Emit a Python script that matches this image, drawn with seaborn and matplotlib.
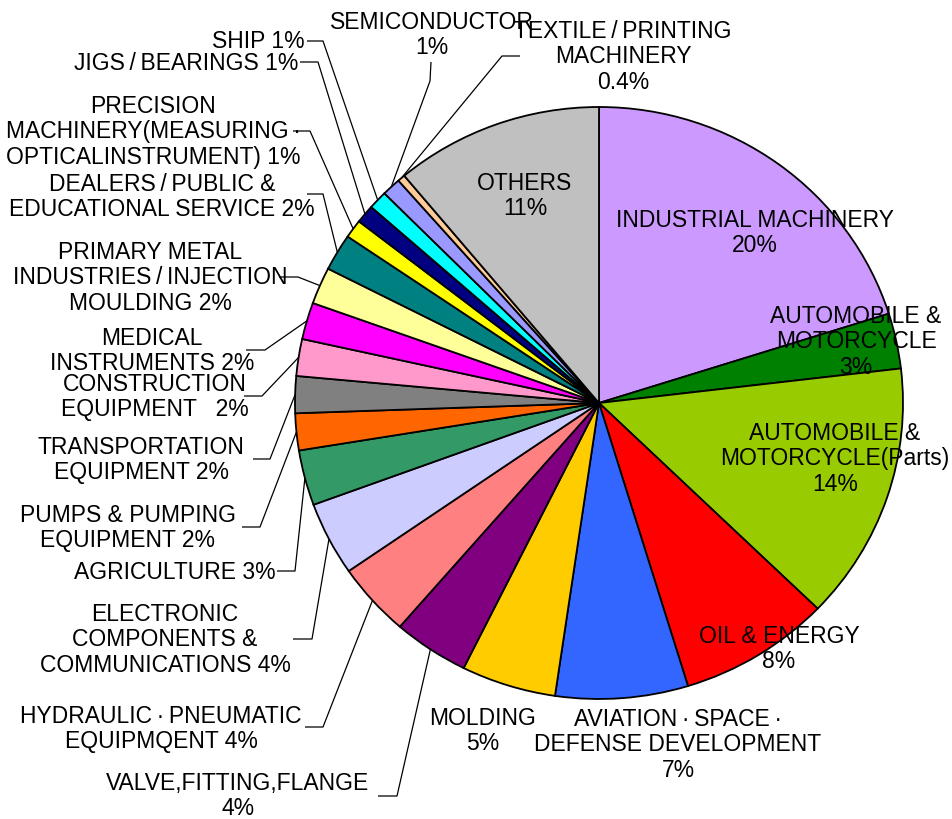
import matplotlib
matplotlib.use("Agg")
import matplotlib.pyplot as plt
import seaborn as sns
import numpy as np

sns.set_theme(style="white")
plt.rcParams["font.family"] = ["Liberation Sans", "DejaVu Sans"]

# Share of machine-tool demand by user industry (%), clockwise from 12 o'clock
categories = [
    "INDUSTRIAL MACHINERY", "AUTOMOBILE & MOTORCYCLE",
    "AUTOMOBILE & MOTORCYCLE(Parts)", "OIL & ENERGY",
    "AVIATION·SPACE·DEFENSE DEVELOPMENT", "MOLDING",
    "VALVE,FITTING,FLANGE", "HYDRAULIC·PNEUMATIC EQUIPMQENT",
    "ELECTRONIC COMPONENTS & COMMUNICATIONS", "AGRICULTURE",
    "PUMPS & PUMPING EQUIPMENT", "TRANSPORTATION EQUIPMENT",
    "CONSTRUCTION EQUIPMENT", "MEDICAL INSTRUMENTS",
    "PRIMARY METAL INDUSTRIES/INJECTION MOULDING",
    "DEALERS/PUBLIC & EDUCATIONAL SERVICE",
    "PRECISION MACHINERY(MEASURING·OPTICALINSTRUMENT)",
    "JIGS/BEARINGS", "SHIP", "SEMICONDUCTOR",
    "TEXTILE/PRINTING MACHINERY", "OTHERS",
]
shares = [20, 3, 14, 8, 7, 5, 4, 4, 4, 3, 2, 2, 2, 2, 2, 2, 1, 1, 1, 1, 0.4, 11]
colors = [
    "#CC99FF", "#008000", "#99CC00", "#FF0000", "#3366FF", "#FFCC00",
    "#800080", "#FF8080", "#CCCCFF", "#339966", "#FF6600", "#808080",
    "#FF99CC", "#FF00FF", "#FFFF99", "#008080", "#FFFF00", "#000080",
    "#00FFFF", "#9999FF", "#FFCC99", "#C0C0C0",
]
T = "\u2009"  # thin space around slashes and middle dots
# label text as printed on the chart ({} is replaced by the share)
label_fmt = [
    "INDUSTRIAL MACHINERY\n{}%", "AUTOMOBILE &\nMOTORCYCLE\n{}%",
    "AUTOMOBILE &\nMOTORCYCLE(Parts)\n{}%", "OIL & ENERGY\n{}%",
    f"AVIATION{T}·{T}SPACE{T}·\nDEFENSE DEVELOPMENT\n{{}}%", "MOLDING\n{}%",
    "VALVE,FITTING,FLANGE\n{}%", f"HYDRAULIC{T}·{T}PNEUMATIC\nEQUIPMQENT {{}}%",
    "ELECTRONIC\nCOMPONENTS &\nCOMMUNICATIONS {}%", "AGRICULTURE {}%",
    "PUMPS & PUMPING\nEQUIPMENT {}%", "TRANSPORTATION\nEQUIPMENT {}%",
    "CONSTRUCTION\nEQUIPMENT   {}%", "MEDICAL\nINSTRUMENTS {}%",
    f"PRIMARY METAL\nINDUSTRIES{T}/{T}INJECTION\nMOULDING {{}}%",
    f"DEALERS{T}/{T}PUBLIC &\nEDUCATIONAL SERVICE {{}}%",
    f"PRECISION\nMACHINERY(MEASURING{T}·\nOPTICALINSTRUMENT) {{}}%",
    f"JIGS{T}/{T}BEARINGS {{}}%", "SHIP {}%", "SEMICONDUCTOR\n{}%",
    f"TEXTILE{T}/{T}PRINTING\nMACHINERY\n{{}}%", "OTHERS\n{}%",
]

W, H = 952, 820
SY = 304 / 296  # the pie is drawn slightly wider than tall
fig = plt.figure(figsize=(W / 100, H / 100), dpi=100)
ax = fig.add_axes([0, 0, 1, 1])


def Y(y):
    # canvas rows run downward; data y runs upward
    return (H - y) * SY


CX, CY, R = 599, 404, 304
wedges, _ = ax.pie(
    shares, colors=colors, startangle=90, counterclock=False,
    center=(CX, Y(CY)), radius=R, normalize=True,
    wedgeprops=dict(edgecolor="black", linewidth=1.3),
)
ax.set_aspect("auto")
ax.set_xlim(0, W)
ax.set_ylim(0, H * SY)
ax.axis("off")

FS = 16.5
# placement: (x, y, horizontal alignment, leader points from label towards pie)
place = {
    0: (755, 233, "center", None),
    1: (856, 342, "center", None),
    2: (835, 459, "center", None),
    3: (779, 649, "center", None),
    4: (678, 745, "center", None),
    5: (483, 731, "center", None),
    6: (238, 796, "center", [(378, 797), (397, 797)]),
    7: (161, 729, "center", [(305, 728), (323, 728)]),
    8: (165, 640, "center", [(293, 640), (312, 640)]),
    9: (175, 573, "center", [(277, 572), (295, 572)]),
    10: (128, 528, "center", [(242, 528), (260, 528)]),
    11: (141, 460, "center", [(253, 460), (270, 460)]),
    12: (155, 397, "center", [(244, 397), (262, 397)]),
    13: (152, 351, "center", [(246, 351), (265, 351)]),
    14: (150, 278, "center", [(279, 278), (298, 278)]),
    15: (162, 197, "center", [(307, 195), (323, 195)]),
    16: (153, 132, "center", [(293, 132), (310, 132)]),
    17: (298, 64, "right", [(300, 63), (318, 63)]),
    18: (305, 42, "right", [(307, 42), (323, 42)]),
    19: (432, 35, "center", [(431, 63), (430, 82)]),
    20: (623, 57, "center", [(520, 57), (502, 57)]),
    21: (525, 196, "center", None),
}

for i, w in enumerate(wedges):
    x, y, ha, leader = place[i]
    ax.text(x, Y(y), label_fmt[i].format(f"{shares[i]:g}"), ha=ha, va="center",
            multialignment="center", fontsize=FS, color="black", linespacing=1.12)
    if leader:
        mid = np.deg2rad((w.theta1 + w.theta2) / 2)
        ex, ey = CX + R * np.cos(mid), Y(CY) + R * np.sin(mid)
        xs = [p[0] for p in leader] + [ex]
        ys = [Y(p[1]) for p in leader] + [ey]
        ax.plot(xs, ys, color="black", lw=0.9, solid_capstyle="butt")

fig.savefig("out.png", dpi=100, facecolor="white")
